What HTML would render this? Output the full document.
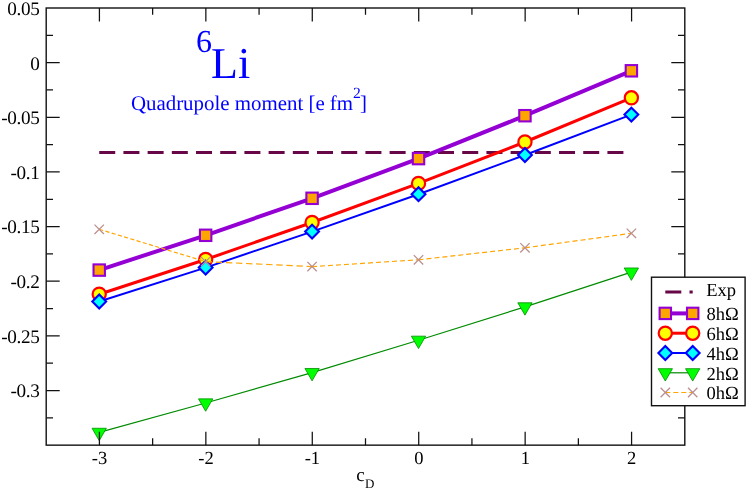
<!DOCTYPE html><html><head><meta charset="utf-8"><style>html,body{margin:0;padding:0;background:#fff}svg{display:block;will-change:transform}text{text-rendering:geometricPrecision;font-family:"Liberation Serif",serif;fill:#000}</style></head><body>
<svg width="747" height="489" viewBox="0 0 747 489">
<rect width="747" height="489" fill="#fff"/>
<line x1="99.22" y1="152.6" x2="631.38" y2="152.6" stroke="#670748" stroke-width="3" stroke-dasharray="16 8.2"/>
<polyline points="99.22,270.10 205.65,235.30 312.08,198.30 418.52,158.60 524.95,115.70 631.38,70.80" fill="none" stroke="#9400d3" stroke-width="4"/>
<rect x="93.52" y="264.40" width="11.4" height="11.4" fill="#ffa500" stroke="#9400d3" stroke-width="2.1"/>
<rect x="199.95" y="229.60" width="11.4" height="11.4" fill="#ffa500" stroke="#9400d3" stroke-width="2.1"/>
<rect x="306.38" y="192.60" width="11.4" height="11.4" fill="#ffa500" stroke="#9400d3" stroke-width="2.1"/>
<rect x="412.82" y="152.90" width="11.4" height="11.4" fill="#ffa500" stroke="#9400d3" stroke-width="2.1"/>
<rect x="519.25" y="110.00" width="11.4" height="11.4" fill="#ffa500" stroke="#9400d3" stroke-width="2.1"/>
<rect x="625.68" y="65.10" width="11.4" height="11.4" fill="#ffa500" stroke="#9400d3" stroke-width="2.1"/>
<polyline points="99.22,294.20 205.65,259.50 312.08,222.50 418.52,183.40 524.95,142.00 631.38,97.80" fill="none" stroke="#ff0000" stroke-width="3"/>
<circle cx="99.22" cy="294.20" r="6.6" fill="#ffff00" stroke="#ff0000" stroke-width="2.2"/>
<circle cx="205.65" cy="259.50" r="6.6" fill="#ffff00" stroke="#ff0000" stroke-width="2.2"/>
<circle cx="312.08" cy="222.50" r="6.6" fill="#ffff00" stroke="#ff0000" stroke-width="2.2"/>
<circle cx="418.52" cy="183.40" r="6.6" fill="#ffff00" stroke="#ff0000" stroke-width="2.2"/>
<circle cx="524.95" cy="142.00" r="6.6" fill="#ffff00" stroke="#ff0000" stroke-width="2.2"/>
<circle cx="631.38" cy="97.80" r="6.6" fill="#ffff00" stroke="#ff0000" stroke-width="2.2"/>
<polyline points="99.22,301.50 205.65,267.60 312.08,231.60 418.52,194.20 524.95,155.00 631.38,114.60" fill="none" stroke="#0000ff" stroke-width="2"/>
<path d="M92.32,301.50 L99.22,294.60 L106.12,301.50 L99.22,308.40 Z" fill="#00ffff" stroke="#0000ff" stroke-width="2.1" stroke-linejoin="miter"/>
<path d="M198.75,267.60 L205.65,260.70 L212.55,267.60 L205.65,274.50 Z" fill="#00ffff" stroke="#0000ff" stroke-width="2.1" stroke-linejoin="miter"/>
<path d="M305.18,231.60 L312.08,224.70 L318.98,231.60 L312.08,238.50 Z" fill="#00ffff" stroke="#0000ff" stroke-width="2.1" stroke-linejoin="miter"/>
<path d="M411.62,194.20 L418.52,187.30 L425.42,194.20 L418.52,201.10 Z" fill="#00ffff" stroke="#0000ff" stroke-width="2.1" stroke-linejoin="miter"/>
<path d="M518.05,155.00 L524.95,148.10 L531.85,155.00 L524.95,161.90 Z" fill="#00ffff" stroke="#0000ff" stroke-width="2.1" stroke-linejoin="miter"/>
<path d="M624.48,114.60 L631.38,107.70 L638.28,114.60 L631.38,121.50 Z" fill="#00ffff" stroke="#0000ff" stroke-width="2.1" stroke-linejoin="miter"/>
<polyline points="99.22,432.40 205.65,403.00 312.08,372.60 418.52,340.30 524.95,306.90 631.38,272.10" fill="none" stroke="#008b00" stroke-width="1.2"/>
<path d="M92.07,428.27 L106.37,428.27 L99.22,440.66 Z" fill="#00ff00" stroke="#008b00" stroke-width="0.8"/>
<path d="M198.50,398.87 L212.80,398.87 L205.65,411.26 Z" fill="#00ff00" stroke="#008b00" stroke-width="0.8"/>
<path d="M304.93,368.47 L319.23,368.47 L312.08,380.86 Z" fill="#00ff00" stroke="#008b00" stroke-width="0.8"/>
<path d="M411.37,336.17 L425.67,336.17 L418.52,348.56 Z" fill="#00ff00" stroke="#008b00" stroke-width="0.8"/>
<path d="M517.80,302.77 L532.10,302.77 L524.95,315.16 Z" fill="#00ff00" stroke="#008b00" stroke-width="0.8"/>
<path d="M624.23,267.97 L638.53,267.97 L631.38,280.36 Z" fill="#00ff00" stroke="#008b00" stroke-width="0.8"/>
<polyline points="99.22,229.30 205.65,261.60" fill="none" stroke="#ffa500" stroke-width="1.2" stroke-dasharray="4.1 2.4"/>
<polyline points="205.65,261.60 312.08,266.60" fill="none" stroke="#ffa500" stroke-width="1.2" stroke-dasharray="6.4 3.7"/>
<polyline points="312.08,266.60 418.52,259.80" fill="none" stroke="#ffa500" stroke-width="1.2" stroke-dasharray="5 3"/>
<polyline points="418.52,259.80 524.95,247.80" fill="none" stroke="#ffa500" stroke-width="1.2" stroke-dasharray="5 3"/>
<polyline points="524.95,247.80 631.38,233.30" fill="none" stroke="#ffa500" stroke-width="1.2" stroke-dasharray="5 3"/>
<path d="M94.52,224.60 L103.92,234.00 M94.52,234.00 L103.92,224.60" fill="none" stroke="#bc8f8f" stroke-width="1.3"/>
<path d="M200.95,256.90 L210.35,266.30 M200.95,266.30 L210.35,256.90" fill="none" stroke="#bc8f8f" stroke-width="1.3"/>
<path d="M307.38,261.90 L316.78,271.30 M307.38,271.30 L316.78,261.90" fill="none" stroke="#bc8f8f" stroke-width="1.3"/>
<path d="M413.82,255.10 L423.22,264.50 M413.82,264.50 L423.22,255.10" fill="none" stroke="#bc8f8f" stroke-width="1.3"/>
<path d="M520.25,243.10 L529.65,252.50 M520.25,252.50 L529.65,243.10" fill="none" stroke="#bc8f8f" stroke-width="1.3"/>
<path d="M626.68,228.60 L636.08,238.00 M626.68,238.00 L636.08,228.60" fill="none" stroke="#bc8f8f" stroke-width="1.3"/>
<path d="M99.42,445.15 v-13.5 M99.42,8.0 v13.5 M152.63,445.15 v-6.8 M152.63,8.0 v6.8 M205.85,445.15 v-13.5 M205.85,8.0 v13.5 M259.07,445.15 v-6.8 M259.07,8.0 v6.8 M312.28,445.15 v-13.5 M312.28,8.0 v13.5 M365.50,445.15 v-6.8 M365.50,8.0 v6.8 M418.72,445.15 v-13.5 M418.72,8.0 v13.5 M471.93,445.15 v-6.8 M471.93,8.0 v6.8 M525.15,445.15 v-13.5 M525.15,8.0 v13.5 M578.37,445.15 v-6.8 M578.37,8.0 v6.8 M631.58,445.15 v-13.5 M631.58,8.0 v13.5 M46.2,35.32 h6.8 M684.8,35.32 h-6.8 M46.2,62.64 h13.5 M684.8,62.64 h-13.5 M46.2,89.97 h6.8 M684.8,89.97 h-6.8 M46.2,117.29 h13.5 M684.8,117.29 h-13.5 M46.2,144.61 h6.8 M684.8,144.61 h-6.8 M46.2,171.93 h13.5 M684.8,171.93 h-13.5 M46.2,199.25 h6.8 M684.8,199.25 h-6.8 M46.2,226.57 h13.5 M684.8,226.57 h-13.5 M46.2,253.90 h6.8 M684.8,253.90 h-6.8 M46.2,281.22 h13.5 M684.8,281.22 h-13.5 M46.2,308.54 h6.8 M684.8,308.54 h-6.8 M46.2,335.86 h13.5 M684.8,335.86 h-13.5 M46.2,363.18 h6.8 M684.8,363.18 h-6.8 M46.2,390.51 h13.5 M684.8,390.51 h-13.5 M46.2,417.83 h6.8 M684.8,417.83 h-6.8" fill="none" stroke="#111" stroke-width="1.25"/>
<rect x="46.2" y="8.0" width="638.5999999999999" height="437.15" fill="none" stroke="#111" stroke-width="1.4"/>
<text x="39.5" y="14.90" font-size="19.2" letter-spacing="-0.35" text-anchor="end">0.05</text>
<text x="39.5" y="69.54" font-size="19.2" letter-spacing="-0.35" text-anchor="end">0</text>
<text x="39.5" y="124.19" font-size="19.2" letter-spacing="-0.35" text-anchor="end">-0.05</text>
<text x="39.5" y="178.83" font-size="19.2" letter-spacing="-0.35" text-anchor="end">-0.1</text>
<text x="39.5" y="233.47" font-size="19.2" letter-spacing="-0.35" text-anchor="end">-0.15</text>
<text x="39.5" y="288.12" font-size="19.2" letter-spacing="-0.35" text-anchor="end">-0.2</text>
<text x="39.5" y="342.76" font-size="19.2" letter-spacing="-0.35" text-anchor="end">-0.25</text>
<text x="39.5" y="397.41" font-size="19.2" letter-spacing="-0.35" text-anchor="end">-0.3</text>
<text x="99.52" y="464.2" font-size="18.5" text-anchor="middle">-3</text>
<text x="205.95" y="464.2" font-size="18.5" text-anchor="middle">-2</text>
<text x="312.38" y="464.2" font-size="18.5" text-anchor="middle">-1</text>
<text x="418.82" y="464.2" font-size="18.5" text-anchor="middle">0</text>
<text x="525.25" y="464.2" font-size="18.5" text-anchor="middle">1</text>
<text x="631.68" y="464.2" font-size="18.5" text-anchor="middle">2</text>
<text x="356.3" y="480.7" font-size="19">c<tspan font-size="13" dy="7.2" dx="0.2">D</tspan></text>
<text x="195.9" y="51.7" font-size="32" style="fill:#0000ff">6</text>
<text x="211.1" y="78.2" font-size="44" style="fill:#0000ff">Li</text>
<text x="130.9" y="109.8" font-size="20.9" style="fill:#0000ff">Quadrupole moment [e fm<tspan font-size="15.6" dy="-11.9" dx="0">2</tspan><tspan dy="11.9" dx="-1.0">]</tspan></text>
<rect x="651.5" y="277.2" width="93.6" height="128.5" fill="#fff" stroke="#111" stroke-width="1.4"/>
<line x1="665.3" y1="292" x2="692.7" y2="292" stroke="#670748" stroke-width="3" stroke-dasharray="16 8.2"/>
<line x1="665.3" y1="313.4" x2="692.7" y2="313.4" stroke="#9400d3" stroke-width="4"/>
<rect x="659.60" y="307.70" width="11.4" height="11.4" fill="#ffa500" stroke="#9400d3" stroke-width="2.1"/>
<rect x="687.00" y="307.70" width="11.4" height="11.4" fill="#ffa500" stroke="#9400d3" stroke-width="2.1"/>
<line x1="665.3" y1="333.2" x2="692.7" y2="333.2" stroke="#ff0000" stroke-width="3"/>
<circle cx="665.30" cy="333.20" r="6.6" fill="#ffff00" stroke="#ff0000" stroke-width="2.2"/>
<circle cx="692.70" cy="333.20" r="6.6" fill="#ffff00" stroke="#ff0000" stroke-width="2.2"/>
<line x1="665.3" y1="353.0" x2="692.7" y2="353.0" stroke="#0000ff" stroke-width="2"/>
<path d="M658.40,353.00 L665.30,346.10 L672.20,353.00 L665.30,359.90 Z" fill="#00ffff" stroke="#0000ff" stroke-width="2.1" stroke-linejoin="miter"/>
<path d="M685.80,353.00 L692.70,346.10 L699.60,353.00 L692.70,359.90 Z" fill="#00ffff" stroke="#0000ff" stroke-width="2.1" stroke-linejoin="miter"/>
<line x1="665.3" y1="372.8" x2="692.7" y2="372.8" stroke="#008b00" stroke-width="1.2"/>
<path d="M658.15,368.67 L672.45,368.67 L665.30,381.06 Z" fill="#00ff00" stroke="#008b00" stroke-width="0.8"/>
<path d="M685.55,368.67 L699.85,368.67 L692.70,381.06 Z" fill="#00ff00" stroke="#008b00" stroke-width="0.8"/>
<line x1="665.3" y1="392.5" x2="692.7" y2="392.5" stroke="#ffa500" stroke-width="1.2" stroke-dasharray="5 3"/>
<path d="M660.60,387.80 L670.00,397.20 M660.60,397.20 L670.00,387.80" fill="none" stroke="#bc8f8f" stroke-width="1.3"/>
<path d="M688.00,387.80 L697.40,397.20 M688.00,397.20 L697.40,387.80" fill="none" stroke="#bc8f8f" stroke-width="1.3"/>
<text x="706.3" y="296" font-size="18.5">Exp</text>
<text x="706.5" y="320.10" font-size="18.5">8hΩ</text>
<text x="706.5" y="339.90" font-size="18.5">6hΩ</text>
<text x="706.5" y="359.70" font-size="18.5">4hΩ</text>
<text x="706.5" y="379.50" font-size="18.5">2hΩ</text>
<text x="706.5" y="399.20" font-size="18.5">0hΩ</text>
</svg></body></html>
